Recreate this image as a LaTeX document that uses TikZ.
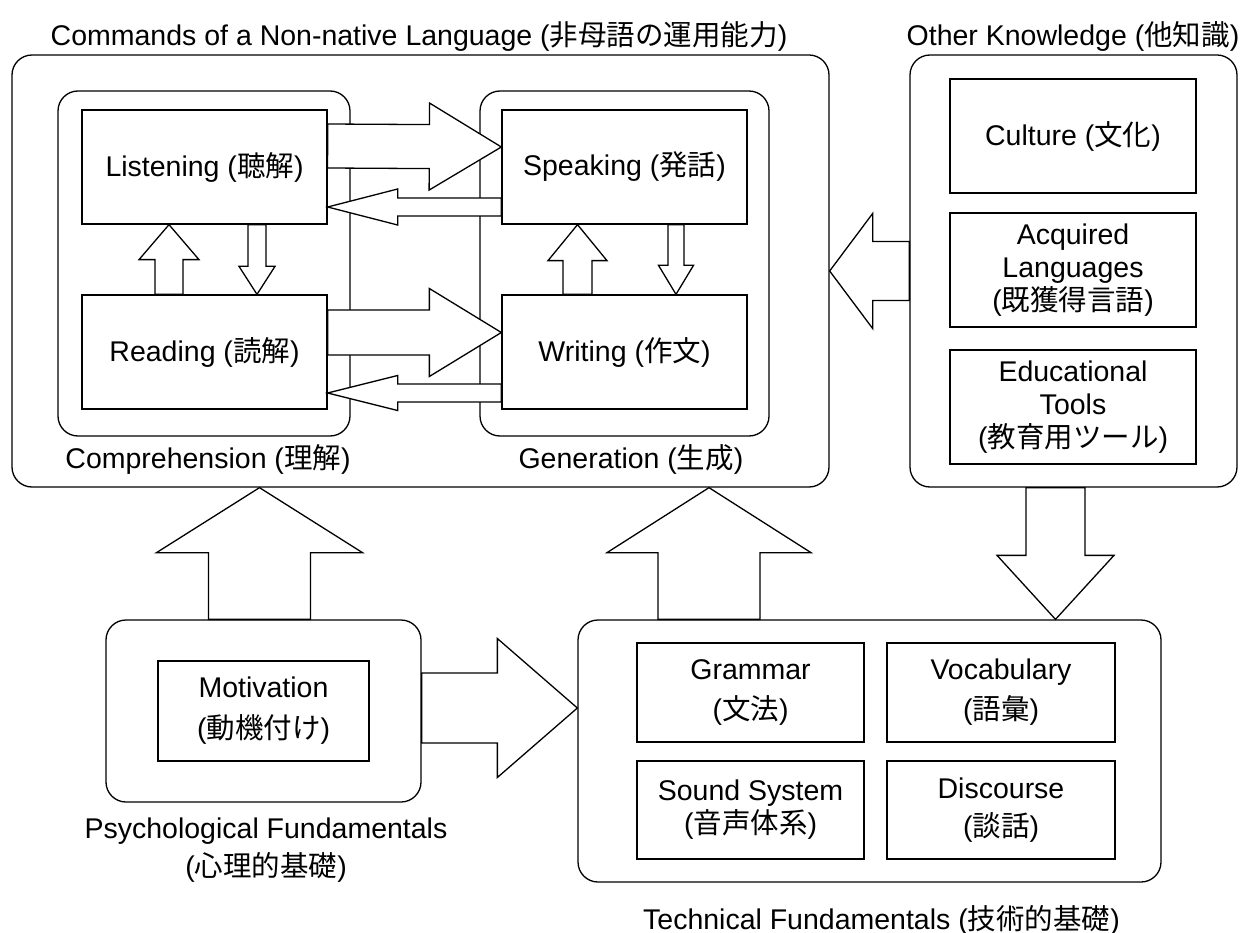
\documentclass[tikz,border=0pt]{standalone}
\usepackage{fontspec}
\setmainfont{Liberation Sans}
\newfontfamily\jp{Noto Sans CJK JP}
\usetikzlibrary{calc}
\tikzset{
  grp/.style={draw, rounded corners=20pt, line width=1.3pt, inner sep=0pt},
  box/.style={draw, line width=1.3pt, inner sep=0pt, align=center, font=\fontsize{28.5}{33}\selectfont},
  lbl/.style={inner sep=0pt, align=center, font=\fontsize{28.5}{33}\selectfont},
  bigarrow/.style={draw, fill=white, line width=1.3pt, line join=miter},
  smallarrow/.style={draw, fill=white, line width=1.3pt, line join=miter},
}
% #1 style, #2 start, #3 tip, #4 shaft half width, #5 head half width, #6 head length
\newcommand\blockarrow[6]{%
  \path ($(#3)!#6!(#2)$) coordinate (bah);
  \draw[#1] ($(#2)!#4!90:(#3)$) -- ($(bah)!#4!90:(#3)$) -- ($(bah)!#5!90:(#3)$) -- (#3)
    -- ($(bah)!#5!-90:(#3)$) -- ($(bah)!#4!-90:(#3)$) -- ($(#2)!#4!-90:(#3)$) -- cycle;
}
\begin{document}
\begin{tikzpicture}[x=1pt, y=-1pt]
\useasboundingbox (0,0) rectangle (1250,933);

% groups
\node[grp, minimum width=817pt, minimum height=432pt] (cmd) at (420.5,271) {};
\node[grp, minimum width=292pt, minimum height=345pt] (comp) at (204,263.5) {};
\node[grp, minimum width=289pt, minimum height=345pt] (gen) at (624.5,263.5) {};
\node[grp, minimum width=327pt, minimum height=432pt] (ok) at (1073.5,271) {};
\node[grp, minimum width=315pt, minimum height=182pt] (psy) at (263.5,711) {};
\node[grp, minimum width=583pt, minimum height=262pt] (tec) at (869.5,751) {};

% boxes
\node[box, minimum width=245pt, minimum height=114pt] (L) at (204.5,167) {Listening ({\jp 聴解})};
\node[box, minimum width=245pt, minimum height=114pt] (R) at (204.5,352) {Reading ({\jp 読解})};
\node[box, minimum width=245pt, minimum height=114pt] (S) at (624.5,167) {Speaking ({\jp 発話})};
\node[box, minimum width=245pt, minimum height=114pt] (W) at (624.5,352) {Writing ({\jp 作文})};
\node[box, minimum width=246pt, minimum height=114pt] (cul) at (1073,136) {Culture ({\jp 文化})};
\node[box, minimum width=246pt, minimum height=114pt] (acq) at (1073,270) {Acquired\\Languages\\({\jp 既獲得言語})};
\node[box, minimum width=246pt, minimum height=114pt] (edu) at (1073,407) {Educational\\Tools\\({\jp 教育用ツール})};
\node[box, minimum width=211pt, minimum height=100pt] (mot) at (263.5,711) {Motivation\\[8pt]({\jp 動機付け})};
\node[box, minimum width=227pt, minimum height=99pt] (gra) at (750.5,692.5) {Grammar\\[7pt]({\jp 文法})};
\node[box, minimum width=228pt, minimum height=99pt] (voc) at (1001,692.5) {Vocabulary\\[7pt]({\jp 語彙})};
\node[box, minimum width=227pt, minimum height=98pt] (snd) at (750.5,810) {Sound System\\({\jp 音声体系})};
\node[box, minimum width=228pt, minimum height=98pt] (dis) at (1001,810) {Discourse\\[5pt]({\jp 談話})};

% labels
\node[lbl, anchor=base] (cmdT) at (419,46) {Commands of a Non-native Language ({\jp 非母語の運用能力})};
\node[lbl, anchor=base] (okT) at (1073,46) {Other Knowledge ({\jp 他知識})};
\node[lbl, anchor=base] (compT) at (208,468) {Comprehension ({\jp 理解})};
\node[lbl, anchor=base] (genT) at (631,468) {Generation ({\jp 生成})};
\node[lbl, anchor=base] (psyT) at (266,876) {Psychological Fundamentals\\[5pt]({\jp 心理的基礎})};
\node[lbl, anchor=base] (tecT) at (881.5,929) {Technical Fundamentals ({\jp 技術的基礎})};

% small arrows
\coordinate (a2s) at ($(S.west)+(0,40)$);
\coordinate (a2t) at ($(L.east)+(0,40)$);
\blockarrow{smallarrow}{a2s}{a2t}{9pt}{18pt}{70pt}
\coordinate (a4s) at ($(W.west)+(0,41)$);
\coordinate (a4t) at ($(R.east)+(0,41)$);
\blockarrow{smallarrow}{a4s}{a4t}{9pt}{17.5pt}{70pt}
\coordinate (a5s) at ($(R.north)+(-35.5,0)$);
\coordinate (a5t) at ($(L.south)+(-35.5,0)$);
\blockarrow{smallarrow}{a5s}{a5t}{14pt}{30pt}{35pt}
\coordinate (a6s) at ($(L.south)+(52.5,0)$);
\coordinate (a6t) at ($(R.north)+(52.5,0)$);
\blockarrow{smallarrow}{a6s}{a6t}{9pt}{18pt}{28pt}
\coordinate (a7s) at ($(W.north)+(-47,0)$);
\coordinate (a7t) at ($(S.south)+(-47,0)$);
\blockarrow{smallarrow}{a7s}{a7t}{14.5pt}{29.5pt}{36pt}
\coordinate (a8s) at ($(S.south)+(51.5,0)$);
\coordinate (a8t) at ($(W.north)+(51.5,0)$);
\blockarrow{smallarrow}{a8s}{a8t}{8pt}{17.5pt}{29pt}

% big arrows
\coordinate (a1s) at ($(L.east)+(0,-21)$);
\coordinate (a1t) at ($(S.west)+(0,-20)$);
\blockarrow{bigarrow}{a1s}{a1t}{22pt}{43.5pt}{72pt}
\coordinate (a3s) at ($(R.east)+(0,-19.5)$);
\coordinate (a3t) at ($(W.west)+(0,-19.5)$);
\blockarrow{bigarrow}{a3s}{a3t}{22.5pt}{44pt}{72pt}
\blockarrow{bigarrow}{ok.west}{cmd.east}{29.5pt}{57.5pt}{43pt}
\coordinate (a10s) at ($(psy.north)+(-4,0)$);
\coordinate (a10t) at (a10s |- cmd.south);
\blockarrow{bigarrow}{a10s}{a10t}{51pt}{103pt}{65pt}
\coordinate (a11s) at ($(tec.north)+(-160.5,0)$);
\coordinate (a11t) at (a11s |- cmd.south);
\blockarrow{bigarrow}{a11s}{a11t}{51pt}{102pt}{65pt}
\coordinate (a12s) at ($(ok.south)+(-18,0)$);
\coordinate (a12t) at (a12s |- tec.north);
\blockarrow{bigarrow}{a12s}{a12t}{29.5pt}{58.5pt}{64pt}
\coordinate (a13s) at ($(psy.east)+(0,-3)$);
\coordinate (a13t) at (a13s -| tec.west);
\blockarrow{bigarrow}{a13s}{a13t}{35pt}{69.5pt}{80pt}
\end{tikzpicture}
\end{document}
